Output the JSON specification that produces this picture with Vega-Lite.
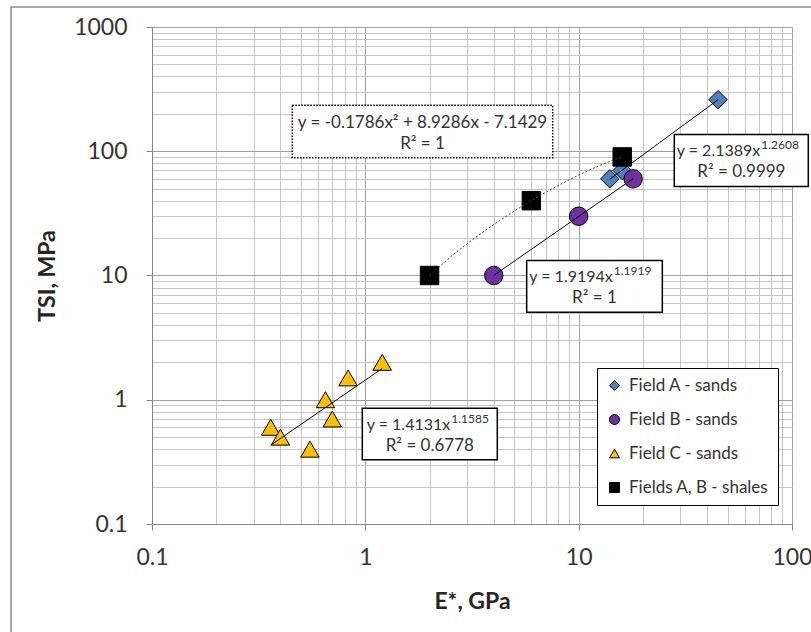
{
  "$schema": "https://vega.github.io/schema/vega-lite/v6.json",
  "width": 640,
  "height": 497,
  "autosize": {"type": "none"},
  "padding": {"left": 152, "top": 27, "right": 19, "bottom": 108},
  "background": "white",
  "config": {"view": {"stroke": null}, "font": "Lato"},
  "datasets": {
    "pts": [
      {"series": "Field A - sands", "e": 14, "tsi": 60},
      {"series": "Field A - sands", "e": 16, "tsi": 70},
      {"series": "Field A - sands", "e": 45, "tsi": 260},
      {"series": "Field B - sands", "e": 4, "tsi": 10},
      {"series": "Field B - sands", "e": 10, "tsi": 30},
      {"series": "Field B - sands", "e": 18, "tsi": 60},
      {"series": "Field C - sands", "e": 0.36, "tsi": 0.6},
      {"series": "Field C - sands", "e": 0.4, "tsi": 0.5},
      {"series": "Field C - sands", "e": 0.55, "tsi": 0.4},
      {"series": "Field C - sands", "e": 0.65, "tsi": 1.0},
      {"series": "Field C - sands", "e": 0.7, "tsi": 0.7},
      {"series": "Field C - sands", "e": 0.83, "tsi": 1.5},
      {"series": "Field C - sands", "e": 1.2, "tsi": 2.0},
      {"series": "Fields A, B - shales", "e": 2, "tsi": 10},
      {"series": "Fields A, B - shales", "e": 6, "tsi": 40},
      {"series": "Fields A, B - shales", "e": 16, "tsi": 90}
    ],
    "frame": [{"e": 0.02183, "e2": 1000, "tsi": 1449, "tsi2": 0.01}],
    "boxes": [
      {"kind": "solid", "e": 28.07, "e2": 119.2, "tsi": 136.7, "tsi2": 52.1},
      {"kind": "solid", "e": 5.706, "e2": 24.67, "tsi": 13.21, "tsi2": 5.063},
      {"kind": "solid", "e": 0.968, "e2": 4.155, "tsi": 0.8535, "tsi2": 0.3296},
      {"kind": "dotted", "e": 0.4546, "e2": 7.556, "tsi": 234.0, "tsi2": 88.7}
    ],
    "eq": [
      {"base": "y = 2.1389x", "sup": "1.2608", "e": 71.0, "tsi": 100.3},
      {"base": "y = 1.9194x", "sup": "1.1919", "e": 14.45, "tsi": 9.69},
      {"base": "y = 1.4131x", "sup": "1.1585", "e": 2.50, "tsi": 0.626}
    ],
    "ctr": [
      {"text": "R² = 0.9999", "e": 57.9, "tsi": 67.9},
      {"text": "R² = 1", "e": 11.86, "tsi": 6.565},
      {"text": "R² = 0.6778", "e": 2.006, "tsi": 0.424},
      {"text": "y = -0.1786x² + 8.9286x - 7.1429", "e": 1.854, "tsi": 169.8},
      {"text": "R² = 1", "e": 1.854, "tsi": 115.0}
    ]
  },
  "layer": [
    {
      "data": {"name": "frame"},
      "mark": {"type": "rect", "fill": "transparent", "stroke": "#8c8c8c", "strokeWidth": 1.5, "clip": false},
      "encoding": {
        "x": {"field": "e", "type": "quantitative"},
        "x2": {"field": "e2"},
        "y": {"field": "tsi", "type": "quantitative"},
        "y2": {"field": "tsi2"}
      }
    },
    {
      "data": {"name": "pts"},
      "mark": {"type": "point", "filled": true, "size": 340, "stroke": "#000000", "strokeWidth": 1, "opacity": 1},
      "encoding": {
        "x": {
          "field": "e", "type": "quantitative",
          "scale": {"type": "log", "domain": [0.1, 100], "nice": false},
          "axis": {
            "title": "E*, GPa",
            "values": [0.1,0.2,0.3,0.4,0.5,0.6,0.7,0.8,0.9,1,2,3,4,5,6,7,8,9,10,20,30,40,50,60,70,80,90,100],
            "labelExpr": "abs(log(datum.value)/LN10 - round(log(datum.value)/LN10)) < 0.001 ? format(datum.value, '~g') : ''",
            "labelOverlap": false, "labelFlush": false, "labelBound": false,
            "grid": true,
            "gridColor": {"condition": {"test": "abs(log(datum.value)/LN10 - round(log(datum.value)/LN10)) < 0.001", "value": "#a0a0a0"}, "value": "#c4c4c4"},
            "gridWidth": 1,
            "tickOpacity": {"condition": {"test": "abs(log(datum.value)/LN10 - round(log(datum.value)/LN10)) < 0.001", "value": 1}, "value": 0},
            "tickSize": 6, "tickColor": "#868686",
            "domainColor": "#868686", "domainWidth": 1,
            "labelFont": "Lato", "labelFontSize": 23, "labelColor": "#333333", "labelPadding": 16,
            "titleFont": "Lato", "titleFontSize": 23, "titleFontWeight": "bold", "titleColor": "#262626", "titlePadding": 21
          }
        },
        "y": {
          "field": "tsi", "type": "quantitative",
          "scale": {"type": "log", "domain": [0.1, 1000], "nice": false},
          "axis": {
            "title": "TSI, MPa",
            "values": [0.1,0.2,0.3,0.4,0.5,0.6,0.7,0.8,0.9,1,2,3,4,5,6,7,8,9,10,20,30,40,50,60,70,80,90,100,200,300,400,500,600,700,800,900,1000],
            "labelExpr": "abs(log(datum.value)/LN10 - round(log(datum.value)/LN10)) < 0.001 ? format(datum.value, '~g') : ''",
            "labelOverlap": false, "labelFlush": false, "labelBound": false,
            "grid": true,
            "gridColor": {"condition": {"test": "abs(log(datum.value)/LN10 - round(log(datum.value)/LN10)) < 0.001", "value": "#a0a0a0"}, "value": "#c4c4c4"},
            "gridWidth": 1,
            "tickOpacity": {"condition": {"test": "abs(log(datum.value)/LN10 - round(log(datum.value)/LN10)) < 0.001", "value": 1}, "value": 0},
            "tickSize": 6, "tickColor": "#868686",
            "domainColor": "#868686", "domainWidth": 1,
            "labelFont": "Lato", "labelFontSize": 23, "labelColor": "#333333", "labelPadding": 19,
            "titleFont": "Lato", "titleFontSize": 23, "titleFontWeight": "bold", "titleColor": "#262626", "titlePadding": 14
          }
        },
        "color": {
          "field": "series", "type": "nominal",
          "scale": {"domain": ["Field A - sands", "Field B - sands", "Field C - sands", "Fields A, B - shales"], "range": ["#4F81BD", "#7030A0", "#FFC000", "#000000"]},
          "legend": {"orient": "none", "legendX": 445, "legendY": 341, "title": null, "strokeColor": "#000000", "fillColor": "#ffffff", "padding": 9, "rowPadding": 16, "symbolSize": 100, "symbolStrokeColor": "#000000", "symbolStrokeWidth": 1, "labelFont": "Lato", "labelFontSize": 17, "labelColor": "#333333", "labelOffset": 6, "labelLimit": 200}
        },
        "shape": {
          "field": "series", "type": "nominal",
          "scale": {"domain": ["Field A - sands", "Field B - sands", "Field C - sands", "Fields A, B - shales"], "range": ["diamond", "circle", "triangle-up", "square"]},
          "legend": {"orient": "none", "legendX": 445, "legendY": 341, "title": null, "strokeColor": "#000000", "fillColor": "#ffffff", "padding": 9, "rowPadding": 16, "symbolSize": 100, "symbolStrokeColor": "#000000", "symbolStrokeWidth": 1, "labelFont": "Lato", "labelFontSize": 17, "labelColor": "#333333", "labelOffset": 6, "labelLimit": 200}
        }
      }
    },
    {
      "data": {"name": "pts"},
      "transform": [
        {"filter": "datum.series != 'Fields A, B - shales'"},
        {"regression": "tsi", "on": "e", "method": "pow", "groupby": ["series"]}
      ],
      "mark": {"type": "line", "color": "#000000", "strokeWidth": 1},
      "encoding": {
        "x": {"field": "e", "type": "quantitative"},
        "y": {"field": "tsi", "type": "quantitative"},
        "detail": {"field": "series"}
      }
    },
    {
      "data": {"name": "pts"},
      "transform": [
        {"filter": "datum.series == 'Fields A, B - shales'"},
        {"regression": "tsi", "on": "e", "method": "quad"}
      ],
      "mark": {"type": "line", "color": "#404040", "strokeWidth": 1, "strokeDash": [2, 2]},
      "encoding": {
        "x": {"field": "e", "type": "quantitative"},
        "y": {"field": "tsi", "type": "quantitative"}
      }
    },
    {
      "data": {"name": "boxes"},
      "transform": [{"filter": "datum.kind == 'solid'"}],
      "mark": {"type": "rect", "fill": "#ffffff", "stroke": "#000000", "strokeWidth": 1.5, "clip": false},
      "encoding": {
        "x": {"field": "e", "type": "quantitative"},
        "x2": {"field": "e2"},
        "y": {"field": "tsi", "type": "quantitative"},
        "y2": {"field": "tsi2"}
      }
    },
    {
      "data": {"name": "boxes"},
      "transform": [{"filter": "datum.kind == 'dotted'"}],
      "mark": {"type": "rect", "fill": "#ffffff", "stroke": "#000000", "strokeWidth": 1.5, "strokeDash": [1.5, 1.5], "clip": false},
      "encoding": {
        "x": {"field": "e", "type": "quantitative"},
        "x2": {"field": "e2"},
        "y": {"field": "tsi", "type": "quantitative"},
        "y2": {"field": "tsi2"}
      }
    },
    {
      "data": {"name": "eq"},
      "mark": {"type": "text", "align": "right", "baseline": "middle", "font": "Lato", "fontSize": 16, "color": "#333333", "clip": false},
      "encoding": {
        "x": {"field": "e", "type": "quantitative"},
        "y": {"field": "tsi", "type": "quantitative"},
        "text": {"field": "base"}
      }
    },
    {
      "data": {"name": "eq"},
      "mark": {"type": "text", "align": "left", "baseline": "middle", "font": "Lato", "fontSize": 12, "dx": 1, "dy": -6, "color": "#333333", "clip": false},
      "encoding": {
        "x": {"field": "e", "type": "quantitative"},
        "y": {"field": "tsi", "type": "quantitative"},
        "text": {"field": "sup"}
      }
    },
    {
      "data": {"name": "ctr"},
      "mark": {"type": "text", "align": "center", "baseline": "middle", "font": "Lato", "fontSize": 17, "color": "#333333", "clip": false},
      "encoding": {
        "x": {"field": "e", "type": "quantitative"},
        "y": {"field": "tsi", "type": "quantitative"},
        "text": {"field": "text"}
      }
    }
  ]
}
